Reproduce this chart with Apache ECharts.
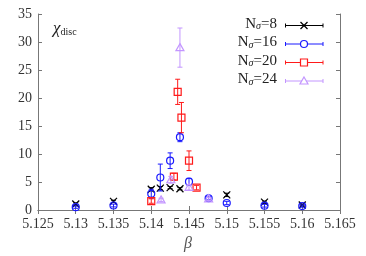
<!DOCTYPE html>
<html><head><meta charset="utf-8">
<script src="https://cdn.jsdelivr.net/npm/echarts@6/dist/echarts.min.js"></script>
<style>html,body{margin:0;padding:0;background:#fff}#c{width:366px;height:256px}</style>
</head><body><div id="c"></div>
<script>
// ---- data ----
const xTicks = [5.125, 5.13, 5.135, 5.14, 5.145, 5.15, 5.155, 5.16, 5.165];
const yTicks = [0, 5, 10, 15, 20, 25, 30, 35];

const beta8 = [5.13, 5.135, 5.14, 5.1412, 5.1425, 5.1438, 5.15, 5.155, 5.16];
const chi8  = [1.07, 1.55, 3.7, 3.9, 4.0, 3.8, 2.7, 1.4, 0.9];
const err8  = [0.2, 0.2, 0.3, 0.3, 0.2, 0.2, 0.3, 0.2, 0.15];

const beta16 = [5.13, 5.135, 5.14, 5.1412, 5.1425, 5.1438, 5.145, 5.1476, 5.15, 5.155, 5.16];
const chi16  = [0.5, 0.8, 2.9, 5.8, 8.8, 13.0, 5.05, 2.1, 1.25, 0.77, 0.7];
const err16  = [0.2, 0.25, 0.8, 2.4, 1.4, 0.8, 0.6, 0.3, 0.3, 0.25, 0.2];

const beta20 = [5.14, 5.143, 5.1435, 5.144, 5.145, 5.146];
const chi20  = [1.6, 5.95, 21.1, 16.5, 8.8, 4.0];
const err20  = [0.4, 0.6, 2.25, 2.7, 1.75, 0.4];

const beta24 = [5.1413, 5.1426, 5.1438, 5.145, 5.1476];
const chi24  = [1.8, 5.4, 29.0, 4.05, 2.0];
const err24  = [0.3, 0.6, 3.5, 0.5, 0.3];

const seriesNames = ['8', '16', '20', '24'];
const seriesColors = ['#000000', '#1a1aff', '#ff1a1a', '#c396ff'];
const seriesMarkers = ['cross', 'circle', 'square', 'triangle'];

// ---- chart ----
const FONT = "'Liberation Serif', 'DejaVu Serif', serif";
const chart = echarts.init(document.getElementById('c'), null, {renderer: 'canvas'});

function markerShapes(kind, cx, cy, color) {
  const st = {stroke: color, fill: 'none', lineWidth: 1.2};
  const r = 3.5;
  if (kind === 'cross') return [
    {type: 'line', shape: {x1: cx - r, y1: cy - r, x2: cx + r, y2: cy + r}, style: st},
    {type: 'line', shape: {x1: cx - r, y1: cy + r, x2: cx + r, y2: cy - r}, style: st}];
  if (kind === 'circle') return [{type: 'circle', shape: {cx: cx, cy: cy, r: r}, style: st}];
  if (kind === 'square') return [{type: 'rect', shape: {x: cx - r, y: cy - r, width: 2 * r, height: 2 * r}, style: st}];
  return [{type: 'polygon', shape: {points: [[cx, cy - r - 0.5], [cx + r + 0.5, cy + r - 0.5], [cx - r - 0.5, cy + r - 0.5]]}, style: st}];
}

function makeSeries(beta, chi, err, idx) {
  const color = seriesColors[idx], kind = seriesMarkers[idx];
  return {
    type: 'custom',
    name: seriesNames[idx],
    xAxisIndex: 0, yAxisIndex: 0,
    data: beta.map((b, i) => [b, chi[i], err[i]]),
    clip: false,
    renderItem: function (params, api) {
      const x = api.value(0), y = api.value(1), e = api.value(2);
      const p = api.coord([x, y]);
      const lo = api.coord([x, y - e]);
      const hi = api.coord([x, y + e]);
      const st = {stroke: color, lineWidth: 1};
      const cw = 2.5;
      const children = [
        {type: 'line', shape: {x1: p[0], y1: lo[1], x2: p[0], y2: hi[1]}, style: st},
        {type: 'line', shape: {x1: p[0] - cw, y1: lo[1], x2: p[0] + cw, y2: lo[1]}, style: st},
        {type: 'line', shape: {x1: p[0] - cw, y1: hi[1], x2: p[0] + cw, y2: hi[1]}, style: st}
      ].concat(markerShapes(kind, p[0], p[1], color));
      return {type: 'group', children: children};
    }
  };
}

// legend drawn with graphic elements
const legendGraphics = [];
const legendRows = [25.5, 44, 62.5, 81];
seriesNames.forEach((n, i) => {
  const y = legendRows[i];
  const c = seriesColors[i];
  legendGraphics.push({
    type: 'text', right: 366 - 277, top: y - 9,
    style: {
      text: '{a|N}{s|σ}{a|=' + n + '}',
      rich: {
        a: {fontFamily: FONT, fontSize: 15, fill: '#222', lineHeight: 18, verticalAlign: 'bottom'},
        s: {fontFamily: FONT, fontSize: 10, fill: '#222', fontStyle: 'italic', lineHeight: 13, verticalAlign: 'bottom'}
      }
    }
  });
  const x1 = 285.5, x2 = 323, xm = 304;
  legendGraphics.push({type: 'line', shape: {x1: x1, y1: y, x2: x2, y2: y}, style: {stroke: c, lineWidth: 1}});
  legendGraphics.push({type: 'line', shape: {x1: x1, y1: y - 2, x2: x1, y2: y + 2}, style: {stroke: c, lineWidth: 1}});
  legendGraphics.push({type: 'line', shape: {x1: x2, y1: y - 2, x2: x2, y2: y + 2}, style: {stroke: c, lineWidth: 1}});
  markerShapes(seriesMarkers[i], xm, y, c).forEach(m => {
    m.style = Object.assign({}, m.style, {fill: '#fff'});
    legendGraphics.push(m);
  });
});
legendGraphics.push({
  type: 'text', left: 53, top: 20,
  style: {
    text: '{c|χ}{s|disc}',
    rich: {
      c: {fontFamily: FONT, fontSize: 17, fontStyle: 'italic', fill: '#222', lineHeight: 18, verticalAlign: 'bottom'},
      s: {fontFamily: FONT, fontSize: 10, fill: '#222', lineHeight: 12, verticalAlign: 'bottom'}
    }
  }
});
legendGraphics.push({
  type: 'text', left: 184, top: 236,
  style: {text: 'β', fontFamily: FONT, fontSize: 16, fontStyle: 'italic', fill: '#555'}
});

const axisLineStyle = {color: '#777', width: 1};
const fmt = v => String(parseFloat(v.toFixed(3)));

const option = {
  animation: false,
  backgroundColor: '#fff',
  textStyle: {fontFamily: FONT},
  grid: {left: 38, right: 26, top: 14, bottom: 46, containLabel: false},
  xAxis: [{
    type: 'value', min: xTicks[0], max: xTicks[xTicks.length - 1], interval: 0.005,
    axisLine: {show: true, lineStyle: axisLineStyle},
    axisTick: {show: true, inside: true, length: 4, lineStyle: axisLineStyle},
    axisLabel: {fontFamily: FONT, fontSize: 14, color: '#333', margin: 7, formatter: fmt},
    splitLine: {show: false}
  }, {
    type: 'value', position: 'top', min: xTicks[0], max: xTicks[xTicks.length - 1], interval: 0.005,
    axisLine: {show: true, lineStyle: axisLineStyle},
    axisTick: {show: true, inside: true, length: 4, lineStyle: axisLineStyle},
    axisLabel: {show: false}, splitLine: {show: false}
  }],
  yAxis: [{
    type: 'value', min: yTicks[0], max: yTicks[yTicks.length - 1], interval: 5,
    axisLine: {show: true, lineStyle: axisLineStyle},
    axisTick: {show: true, inside: true, length: 4, lineStyle: axisLineStyle},
    axisLabel: {fontFamily: FONT, fontSize: 14, color: '#333', margin: 6},
    splitLine: {show: false}
  }, {
    type: 'value', position: 'right', min: yTicks[0], max: yTicks[yTicks.length - 1], interval: 5,
    axisLine: {show: true, lineStyle: axisLineStyle},
    axisTick: {show: true, inside: true, length: 4, lineStyle: axisLineStyle},
    axisLabel: {show: false}, splitLine: {show: false}
  }],
  series: [
    makeSeries(beta8, chi8, err8, 0),
    makeSeries(beta16, chi16, err16, 1),
    makeSeries(beta20, chi20, err20, 2),
    makeSeries(beta24, chi24, err24, 3)
  ],
  graphic: legendGraphics
};
chart.setOption(option);
</script></body></html>
